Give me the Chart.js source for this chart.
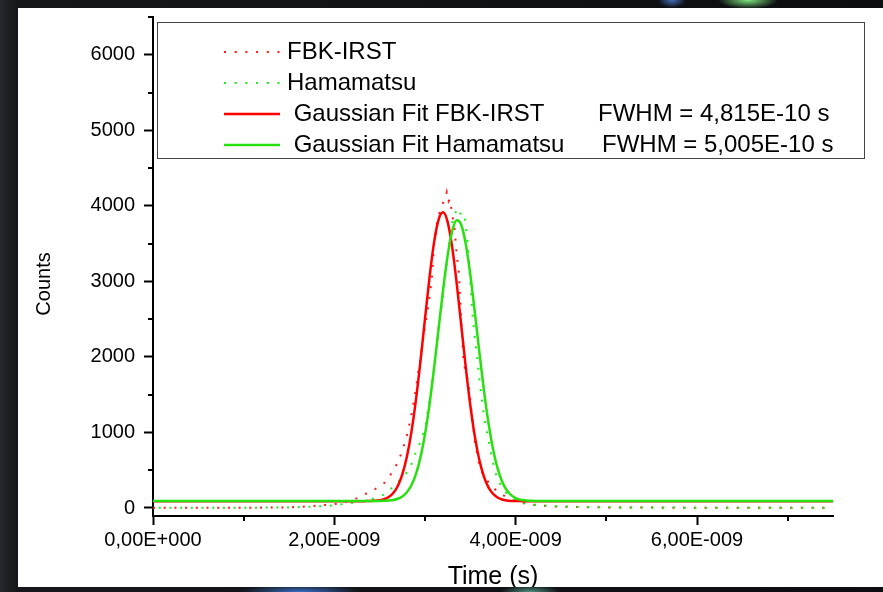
<!DOCTYPE html>
<html>
<head>
<meta charset="utf-8">
<script src="https://cdn.jsdelivr.net/npm/chart.js@4.4.1/dist/chart.umd.min.js"></script>
<style>
html,body{margin:0;padding:0;width:883px;height:592px;overflow:hidden;}
body{background:#101114;position:relative;}
#bg{position:absolute;left:0;top:0;width:883px;height:592px;
 background:
  radial-gradient(ellipse 30px 9px at 748px 0px, rgba(140,255,140,0.9), rgba(0,0,0,0) 100%),
  radial-gradient(ellipse 14px 8px at 672px 0px, rgba(90,150,255,0.7), rgba(0,0,0,0) 100%),
  radial-gradient(ellipse 60px 8px at 300px 592px, rgba(70,140,255,0.75), rgba(0,0,0,0) 100%),
  radial-gradient(ellipse 30px 7px at 530px 592px, rgba(120,230,200,0.6), rgba(0,0,0,0) 100%),
  linear-gradient(to right, #26272c 0px, #16171a 18px, #0c0d10 100%);}
#panel{position:absolute;left:18px;top:8px;width:865px;height:579px;background:#fff;}
#clip{position:absolute;left:0;top:0;width:883px;height:587px;overflow:hidden;}
#c{position:absolute;left:0;top:0;}
</style>
</head>
<body>
<div id="bg"></div>
<div id="panel"></div>
<div id="clip"><canvas id="c" width="883" height="592"></canvas></div>
<script>
// ---- data (time in units of 1E-9 s) ----
const tRed = [0, 0.5, 1.0, 1.5, 1.6, 1.7, 1.8, 1.9, 2.0, 2.1, 2.2, 2.25, 2.3, 2.35, 2.4, 2.45, 2.5, 2.55, 2.6, 2.65, 2.7, 2.75, 2.8, 2.85, 2.9, 2.925, 2.95, 2.975, 3.0, 3.025, 3.05, 3.075, 3.1, 3.125, 3.15, 3.175, 3.2, 3.225, 3.24, 3.26, 3.275, 3.3, 3.325, 3.35, 3.375, 3.4, 3.425, 3.45, 3.475, 3.5, 3.525, 3.55, 3.6, 3.65, 3.7, 3.75, 3.8, 3.85, 3.9, 3.95, 4.0, 4.1, 4.2, 4.3, 4.4, 4.5, 4.7, 5.0, 5.5, 6.0, 6.5, 7.0, 7.5];
const redCounts = [2, 2, 3, 8, 15, 20, 30, 40, 52, 70, 105, 130, 160, 190, 220, 250, 285, 330, 400, 500, 600, 760, 960, 1230, 1580, 1800, 1980, 2200, 2400, 2580, 2800, 3030, 3500, 3700, 3880, 3960, 4040, 4100, 4180, 4060, 4090, 3880, 3720, 3350, 3100, 2450, 1950, 1780, 1690, 1420, 1150, 870, 560, 420, 340, 270, 220, 180, 140, 110, 85, 60, 40, 30, 22, 18, 12, 8, 5, 4, 3, 3, 3];

const tGreen = [0, 0.5, 1.0, 1.5, 1.7, 1.9, 2.0, 2.1, 2.2, 2.3, 2.4, 2.5, 2.55, 2.6, 2.65, 2.7, 2.75, 2.8, 2.85, 2.9, 2.95, 3.0, 3.05, 3.1, 3.15, 3.2, 3.225, 3.25, 3.275, 3.3, 3.325, 3.35, 3.365, 3.38, 3.4, 3.425, 3.45, 3.475, 3.5, 3.525, 3.55, 3.575, 3.6, 3.625, 3.65, 3.675, 3.7, 3.725, 3.75, 3.775, 3.8, 3.85, 3.9, 3.95, 4.0, 4.05, 4.1, 4.2, 4.3, 4.4, 4.5, 4.7, 5.0, 5.5, 6.0, 6.5, 7.0, 7.5];
const greenCounts = [2, 3, 3, 8, 15, 25, 35, 53, 68, 85, 110, 150, 180, 225, 282, 340, 405, 470, 580, 740, 880, 1050, 1420, 1850, 2400, 2800, 3100, 3300, 3620, 3780, 3900, 3930, 3970, 3920, 3880, 3900, 3760, 3450, 3000, 2550, 2250, 2000, 1700, 1450, 1220, 1050, 920, 740, 600, 480, 380, 270, 194, 140, 100, 80, 65, 45, 35, 25, 20, 14, 9, 6, 4, 3, 3, 3];

const tFit = [0, 1, 2, 2.3, 2.35, 2.4, 2.45, 2.5, 2.55, 2.6, 2.65, 2.7, 2.75, 2.8, 2.85, 2.9, 2.95, 3.0, 3.05, 3.1, 3.15, 3.2, 3.25, 3.3, 3.35, 3.4, 3.45, 3.5, 3.55, 3.6, 3.65, 3.7, 3.75, 3.8, 3.85, 3.9, 3.95, 4.0, 4.05, 4.1, 4.15, 4.2, 4.25, 4.3, 5, 6, 7.5];
const redFit = [90, 90, 90, 90, 91, 92, 95, 102, 116, 145, 198, 292, 445, 677, 1005, 1431, 1945, 2506, 3055, 3516, 3819, 3914, 3784, 3451, 2971, 2416, 1859, 1357, 945, 633, 416, 274, 188, 139, 113, 100, 94, 92, 91, 90, 90, 90, 90, 90, 90, 90, 90];
const greenFit = [92, 92, 92, 92, 92, 92, 92, 93, 95, 98, 106, 122, 152, 208, 301, 449, 670, 978, 1376, 1851, 2375, 2894, 3345, 3667, 3808, 3747, 3493, 3086, 2586, 2058, 1558, 1126, 782, 528, 352, 239, 171, 132, 111, 101, 96, 94, 93, 92, 92, 92, 92];

const xTickValues = [0, 2, 4, 6];
const xTickLabels = ['0,00E+000', '2,00E-009', '4,00E-009', '6,00E-009'];
const xMinorValues = [1, 3, 5, 7];
const yTickValues = [0, 1000, 2000, 3000, 4000, 5000, 6000];
const yTickLabels = ['0', '1000', '2000', '3000', '4000', '5000', '6000'];
const yMinorValues = [500, 1500, 2500, 3500, 4500, 5500, 6500];
const xTitle = 'Time (s)';
const yTitle = 'Counts';

const seriesNames = ['FBK-IRST', 'Hamamatsu', ' Gaussian Fit FBK-IRST', ' Gaussian Fit Hamamatsu'];
const fwhmTexts = ['', '', 'FWHM = 4,815E-10 s', 'FWHM = 5,005E-10 s'];
const seriesColors = ['#ff1a1a', '#1aee1a', '#ff0000', '#28e010'];
const seriesDotted = [true, true, false, false];

const FONT = "'Liberation Sans', Arial, sans-serif";

const pts = (xs, ys) => xs.map((x, i) => ({x: x, y: ys[i]}));

const extras = {
  id: 'extras',
  afterDraw(chart) {
    const {ctx, chartArea: a, scales: {x, y}} = chart;
    ctx.save();
    // minor ticks
    ctx.strokeStyle = '#000';
    ctx.lineWidth = 2;
    xMinorValues.forEach(v => {
      const px = Math.round(x.getPixelForValue(v));
      ctx.beginPath(); ctx.moveTo(px, x.top); ctx.lineTo(px, x.top + 5); ctx.stroke();
    });
    yMinorValues.forEach(v => {
      const py = Math.round(y.getPixelForValue(v));
      ctx.beginPath(); ctx.moveTo(y.right, py); ctx.lineTo(y.right - 5, py); ctx.stroke();
    });
    // y axis title
    ctx.fillStyle = '#000';
    ctx.font = '20px ' + FONT;
    ctx.textAlign = 'center';
    ctx.textBaseline = 'middle';
    ctx.translate(44, 284);
    ctx.rotate(-Math.PI / 2);
    ctx.fillText(yTitle, 0, 0);
    ctx.restore();

    // legend box
    ctx.save();
    const left = a.left + 4, top = 22, right = a.right + 31, bottom = 158;
    ctx.fillStyle = '#fff';
    ctx.fillRect(left, top, right - left, bottom - top);
    ctx.strokeStyle = '#444';
    ctx.lineWidth = 1;
    ctx.strokeRect(left + 0.5, top + 0.5, right - left, bottom - top);
    ctx.font = '24px ' + FONT;
    ctx.textBaseline = 'middle';
    ctx.fillStyle = '#000';
    seriesNames.forEach((name, i) => {
      const yy = 52 + i * 31;
      ctx.strokeStyle = seriesColors[i];
      if (seriesDotted[i]) {
        ctx.lineWidth = 2;
        ctx.setLineDash([2, 8.7]);
      } else {
        ctx.lineWidth = 2.5;
        ctx.setLineDash([]);
      }
      ctx.beginPath(); ctx.moveTo(a.left + 71, yy); ctx.lineTo(a.left + 127, yy); ctx.stroke();
      ctx.setLineDash([]);
      ctx.textAlign = 'left';
      ctx.fillText(name, a.left + 134, yy);
      if (fwhmTexts[i]) {
        ctx.fillText(fwhmTexts[i], a.left + (i === 2 ? 445 : 449), yy);
      }
    });
    ctx.restore();
  }
};

new Chart(document.getElementById('c'), {
  type: 'line',
  data: {
    datasets: [
      {label: seriesNames[0], data: pts(tRed, redCounts), borderColor: seriesColors[0], borderWidth: 2, borderDash: [2, 8.7], borderCapStyle: 'butt', pointRadius: 0, tension: 0, order: 4},
      {label: seriesNames[1], data: pts(tGreen, greenCounts), borderColor: seriesColors[1], borderWidth: 2, borderDash: [2, 8.7], borderDashOffset: 5, borderCapStyle: 'butt', pointRadius: 0, tension: 0, order: 3},
      {label: seriesNames[2], data: pts(tFit, redFit), borderColor: seriesColors[2], borderWidth: 2.5, pointRadius: 0, cubicInterpolationMode: 'monotone', order: 2},
      {label: seriesNames[3], data: pts(tFit, greenFit), borderColor: seriesColors[3], borderWidth: 2.5, pointRadius: 0, cubicInterpolationMode: 'monotone', order: 1}
    ]
  },
  options: {
    responsive: false,
    animation: false,
    devicePixelRatio: 1,
    layout: {padding: {left: 0, top: 17, right: 50, bottom: 0}},
    plugins: {legend: {display: false}, tooltip: {enabled: false}},
    scales: {
      x: {
        type: 'linear', min: 0, max: 7.5,
        afterFit(s) { s.height = 76; s.paddingLeft = 0; s.paddingRight = 0; },
        afterBuildTicks(s) { s.ticks = xTickValues.map(v => ({value: v})); },
        ticks: {callback: (v, i) => xTickLabels[i], font: {family: FONT, size: 20}, color: '#000', padding: 3, maxRotation: 0, autoSkip: false},
        grid: {drawOnChartArea: false, tickLength: 9, tickWidth: 2, tickColor: '#000'},
        border: {color: '#000', width: 2},
        title: {display: true, text: xTitle, font: {family: FONT, size: 25}, color: '#000', padding: {top: 0, bottom: 0}}
      },
      y: {
        type: 'linear', min: -106, max: 6500,
        afterFit(s) { s.width = 153; s.paddingTop = 0; s.paddingBottom = 0; },
        afterBuildTicks(s) { s.ticks = yTickValues.map(v => ({value: v})); },
        ticks: {callback: (v, i) => yTickLabels[i], font: {family: FONT, size: 20}, color: '#000', padding: 9, autoSkip: false},
        grid: {drawOnChartArea: false, tickLength: 9, tickWidth: 2, tickColor: '#000'},
        border: {color: '#000', width: 2},
        title: {display: false}
      }
    }
  },
  plugins: [extras]
});
</script>
</body>
</html>
